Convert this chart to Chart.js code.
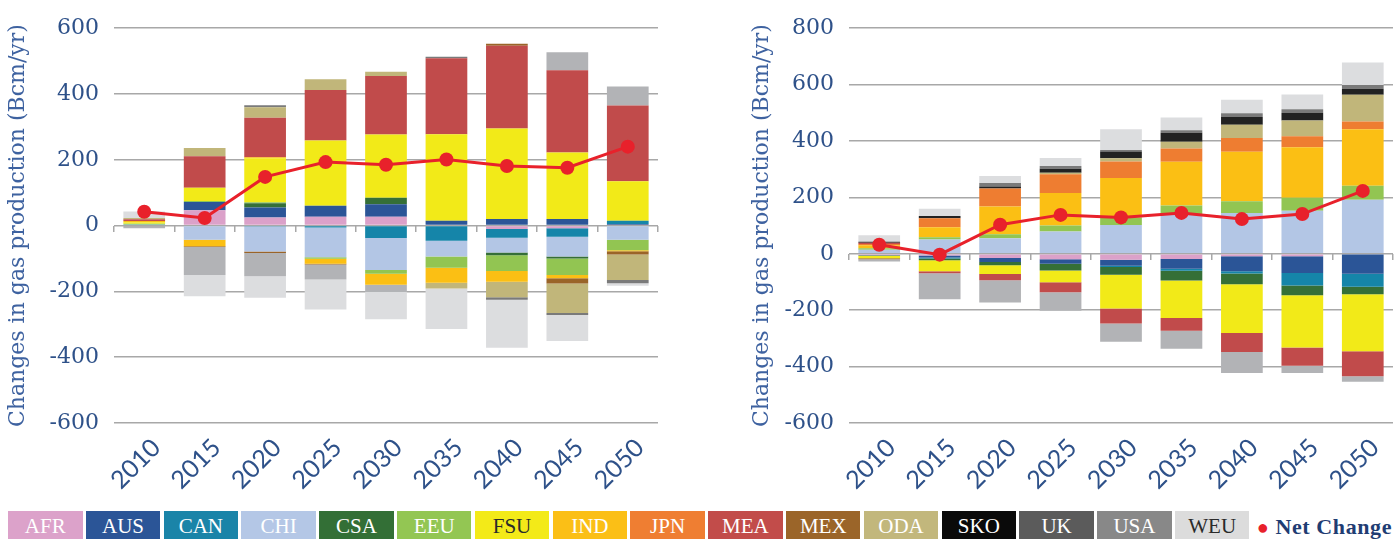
<!DOCTYPE html>
<html>
<head>
<meta charset="utf-8">
<script src="https://cdn.jsdelivr.net/npm/chart.js@4.4.1/dist/chart.umd.min.js"></script>
<style>
  body { margin: 0; width: 1400px; height: 539px; background: #fff; overflow: hidden; position: relative; }
  .chartBox { position: absolute; top: 0; height: 510px; }
  #leftBox { left: 0; width: 680px; }
  #rightBox { left: 741px; width: 659px; }
  #legend { position: absolute; left: 8px; top: 511px; display: flex; gap: 3.3px; align-items: flex-start; }
  .lg { width: 74.5px; height: 30px; color: #fff; font: 21px "Liberation Serif"; text-align: center; line-height: 31px; }
  .net { margin-left: 4px; font: bold 22px "Liberation Serif"; color: #1f3d73; line-height: 31px; letter-spacing: 0.6px; }
  .net span { color: #e8212b; font-size: 20px; margin-right: 6px; }
</style>
</head>
<body>
<div id="leftBox" class="chartBox"><canvas id="leftChart" width="680" height="510"></canvas></div>
<div id="rightBox" class="chartBox"><canvas id="rightChart" width="659" height="510"></canvas></div>
<div id="legend"></div>

<script>
const years = ['2010', '2015', '2020', '2025', '2030', '2035', '2040', '2045', '2050'];
const regions = ['AFR', 'AUS', 'CAN', 'CHI', 'CSA', 'EEU', 'FSU', 'IND', 'JPN', 'MEA', 'MEX', 'ODA', 'SKO', 'UK', 'USA', 'WEU'];
const barColors = ['#dba1c9', '#2b5597', '#1585a9', '#b3c6e5', '#356f37', '#92c552', '#f2ea18', '#fbbf14',
  '#ee7d31', '#c14b4b', '#9a6428', '#c1b67a', '#222222', '#7a7a7a', '#b2b3b6', '#dcdddf'];
const legendColors = ['#dca2ca', '#2b5597', '#1a84a8', '#b4c7e6', '#336f36', '#93c653', '#f3ea18', '#fbbf16',
  '#ef7e32', '#c24c4a', '#9b6529', '#c2b77c', '#0a0a0a', '#5b5b5b', '#888888', '#dcdcdc'];
const darkText = ['FSU', 'WEU'];

// left chart, Bcm/yr per region
const leftAFR = [0, 47, 25, 27, 27, 0, -10, -8, 0];
const leftAUS = [0, 25, 30, 33, 38, 15, 20, 20, 5];
const leftCAN = [3, 0, -3, -6, -38, -46, -27, -26, 10];
const leftCHI = [0, -43, -76, -90, -97, -48, -45, -60, -43];
const leftCSA = [0, 0, 13, 0, 20, 0, -8, -6, 0];
const leftEEU = [3, 3, 3, -5, -11, -34, -48, -50, -32];
const leftFSU = [4, 40, 134, 199, 192, 263, 275, 202, 120];
const leftIND = [4, -20, 3, -15, -34, -46, -33, -10, -3];
const leftJPN = [0, 0, 0, 0, 0, 0, 0, 0, 0];
const leftMEA = [5, 96, 120, 153, 178, 231, 252, 250, 230];
const leftMEX = [0, -2, -4, -2, 0, 0, 6, -16, -10];
const leftODA = [4, 25, 32, 33, 13, -17, -47, -90, -77];
const leftSKO = [0, 0, 0, 0, 0, 0, 0, 0, 0];
const leftUK = [-3, 0, 6, 0, 0, 4, -7, -6, -10];
const leftUSA = [-5, -85, -71, -46, -21, 0, 0, 55, 58];
const leftWEU = [20, -65, -65, -91, -84, -123, -146, -79, -8];
const leftNet = [42, 23, 148, 193, 185, 201, 181, 176, 240];

// right chart
const rightAFR = [-4, -6, -15, -19, -21, -18, -9, -9, 0];
const rightAUS = [-2, -7, -14, -16, -21, -35, -53, -59, -71];
const rightCAN = [0, -4, 0, 0, -5, -7, -8, -44, -46];
const rightCHI = [14, 51, 55, 79, 102, 139, 145, 153, 192];
const rightCSA = [0, -6, -12, -24, -27, -35, -38, -35, -26];
const rightEEU = [6, 8, 14, 21, 27, 32, 41, 46, 49];
const rightFSU = [-10, -39, -31, -42, -120, -133, -173, -185, -203];
const rightIND = [10, 35, 99, 116, 140, 155, 176, 179, 201];
const rightJPN = [5, 32, 64, 66, 58, 47, 49, 39, 27];
const rightMEA = [4, -7, -22, -35, -53, -45, -67, -65, -88];
const rightMEX = [-3, 0, 0, 0, 0, 0, 0, 0, 0];
const rightODA = [0, 0, 0, 5, 12, 24, 47, 56, 95];
const rightSKO = [4, 8, 7, 15, 24, 32, 27, 26, 21];
const rightUK = [0, 0, 12, 9, 5, 9, 13, 14, 14];
const rightUSA = [-8, -92, -79, -66, -65, -64, -75, -26, -20];
const rightWEU = [23, 26, 25, 29, 74, 45, 48, 52, 79];
const rightNet = [32, -3, 103, 138, 129, 145, 123, 141, 223];

const leftTicks = [-600, -400, -200, 0, 200, 400, 600];
const rightTicks = [-600, -400, -200, 0, 200, 400, 600, 800];

const tickColor = '#2e5189';
const gridColor = '#a8a8a8';

function buildChart(id, values, net, ticks, yWidth, padLeft, padRight) {
  let datasets = regions.map((r, i) => ({
    label: r,
    data: values[i],
    backgroundColor: barColors[i],
    borderWidth: 0,
    stack: 'regions',
    order: 1,
    barPercentage: 0.69,
    categoryPercentage: 1
  }));
  datasets.push({
    type: 'line',
    label: 'Net Change',
    data: net,
    stack: 'net',
    order: 0,
    borderColor: '#e8212b',
    borderWidth: 3,
    pointRadius: 7,
    pointBackgroundColor: '#e8212b',
    pointBorderWidth: 0,
    tension: 0
  });

  new Chart(document.getElementById(id), {
    type: 'bar',
    data: { labels: years, datasets: datasets },
    options: {
      responsive: false,
      animation: false,
      layout: { padding: { left: padLeft, right: padRight, top: 26, bottom: 0 } },
      plugins: { legend: { display: false }, tooltip: { enabled: false } },
      scales: {
        x: {
          stacked: true,
          grid: { display: false },
          border: { display: false },
          ticks: { minRotation: 45, maxRotation: 45, color: tickColor, labelOffset: 12, padding: 2,
            font: { family: 'Lato', size: 25 } },
          afterFit: s => { s.height = 87; }
        },
        zero: {
          axis: 'x',
          type: 'category',
          labels: years,
          position: { y: 0 },
          grid: { offset: true, drawOnChartArea: false, tickLength: 6, color: gridColor, lineWidth: 1.5 },
          border: { display: false },
          ticks: { display: false }
        },
        y: {
          stacked: true,
          min: ticks[0],
          max: ticks[ticks.length - 1],
          ticks: { stepSize: 200, color: tickColor, padding: 15, font: { family: 'DejaVu Serif', size: 22 } },
          grid: { color: gridColor, lineWidth: 1.5, drawTicks: false },
          border: { display: false },
          title: { display: true, text: 'Changes in gas production (Bcm/yr)', color: '#3e62a0',
            font: { family: 'DejaVu Serif', size: 22 } },
          afterFit: s => { s.width = yWidth; }
        }
      }
    }
  });
}

buildChart('leftChart',
  [leftAFR, leftAUS, leftCAN, leftCHI, leftCSA, leftEEU, leftFSU, leftIND, leftJPN, leftMEA, leftMEX, leftODA, leftSKO, leftUK, leftUSA, leftWEU],
  leftNet, leftTicks, 113, 1, 22);
buildChart('rightChart',
  [rightAFR, rightAUS, rightCAN, rightCHI, rightCSA, rightEEU, rightFSU, rightIND, rightJPN, rightMEA, rightMEX, rightODA, rightSKO, rightUK, rightUSA, rightWEU],
  rightNet, rightTicks, 104, 4, 4);

// legend built from the region list
let legendHtml = '';
regions.forEach((r, i) => {
  let col = darkText.includes(r) ? '#2a2a2a' : '#fff';
  legendHtml += `<div class="lg" style="background:${legendColors[i]};color:${col}">${r}</div>`;
});
legendHtml += `<div class="net"><span>●</span>Net Change</div>`;
document.getElementById('legend').innerHTML = legendHtml;
</script>
</body>
</html>
